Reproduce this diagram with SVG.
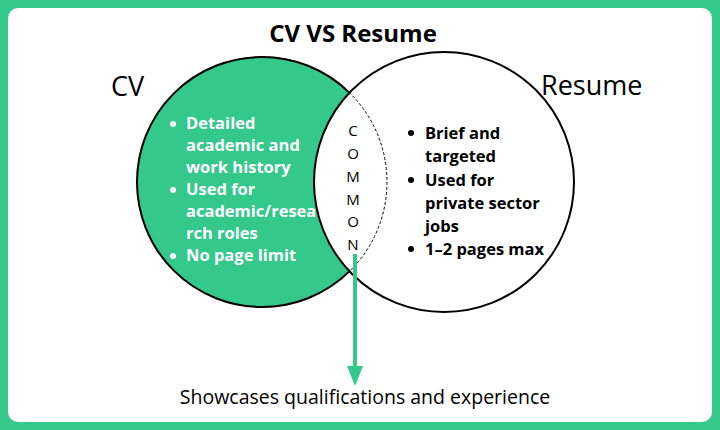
<svg xmlns="http://www.w3.org/2000/svg" width="720" height="430" viewBox="0 0 720 430">
<style>
.t{font-family:"Open Sans","Liberation Sans",sans-serif}
.b{font-weight:bold;font-size:16.5px}
.w{fill:#fff}
.k{fill:#000}
.c{font-size:15px;text-anchor:middle}
</style>
<defs><marker id="ah" markerWidth="5" markerHeight="4" refX="2.5" refY="2" orient="auto" markerUnits="strokeWidth"><path d="M0,0L5,2L0,4z" fill="#34c88a"/></marker></defs>
<rect width="720" height="430" fill="#34c88a"/>
<rect x="8" y="8" width="704" height="414" rx="10" fill="#fff"/>
<text class="t" x="353" y="42" font-size="24" font-weight="bold" text-anchor="middle">CV VS Resume</text>
<g id="cv"><circle cx="262" cy="182" r="125" fill="#34c88a" stroke="#000" stroke-width="2"/>
<text class="t" x="111" y="96" font-size="27">CV</text></g>
<g id="resume"><circle cx="444" cy="182" r="130" fill="#fff" stroke="#000" stroke-width="2"/>
<circle cx="262" cy="182" r="125" fill="none" stroke="#000" stroke-width="1" stroke-dasharray="3,2"/>
<text class="t" x="541" y="95" font-size="27">Resume</text></g>
<g id="cvtext" class="t b w">
<circle cx="173" cy="124" r="3" fill="#fff"/><text x="186" y="129">Detailed</text>
<text x="186" y="151">academic and</text><text x="186" y="173">work history</text>
<circle cx="173" cy="190" r="3" fill="#fff"/><text x="186" y="195">Used for</text>
<text x="186" y="217">academic/resea</text><text x="186" y="239">rch roles</text>
<circle cx="173" cy="256" r="3" fill="#fff"/><text x="186" y="261">No page limit</text></g>
<g id="restext" class="t b k">
<circle cx="411" cy="133" r="3"/><text x="425" y="139">Brief and</text>
<text x="425" y="162">targeted</text>
<circle cx="411" cy="180" r="3"/><text x="425" y="186">Used for</text>
<text x="425" y="209">private sector</text><text x="425" y="232">jobs</text>
<circle cx="411" cy="249" r="3"/><text x="425" y="255">1–2 pages max</text></g>
<g id="common" class="t c">
<text x="353" y="136">C</text><text x="353" y="159">O</text><text x="353" y="182">M</text><text x="353" y="205">M</text><text x="353" y="227">O</text><text x="353" y="250">N</text></g>
<g id="connectors"><line x1="355" y1="254" x2="355" y2="376" stroke="#34c88a" stroke-width="4" marker-end="url(#ah)"/></g>
<text class="t" x="365" y="404" font-size="19.5" text-anchor="middle">Showcases qualifications and experience</text>
</svg>
